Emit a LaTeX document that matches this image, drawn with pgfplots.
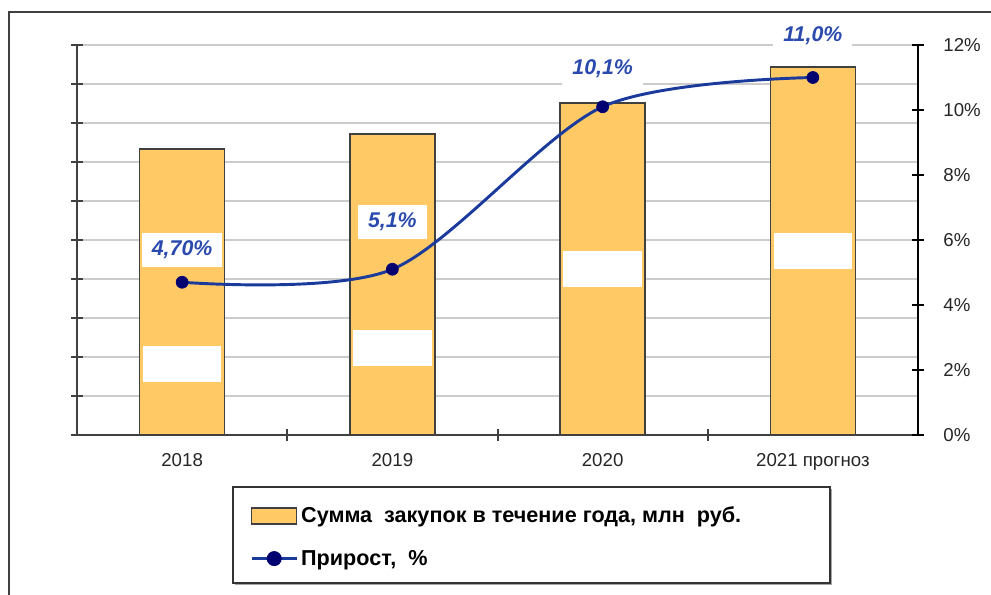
\documentclass[border=0pt]{standalone}
\usepackage{pgfplots}
\pgfplotsset{compat=1.18}
\usepackage{fontspec}
\setmainfont{Liberation Sans}

\definecolor{barfill}{HTML}{FFC966}
\definecolor{lineblue}{HTML}{1A3A9C}
\definecolor{markblue}{HTML}{000070}
\definecolor{lblblue}{HTML}{2B4AAE}
\definecolor{axisgray}{HTML}{404040}

\begin{document}
\begin{tikzpicture}
\useasboundingbox (0,0) rectangle (743.25pt,445.5pt);
% outer frame and legend frame
\draw[axisgray, line width=1.5pt] (6.75pt,-20pt) -- (6.75pt,436.5pt) -- (760pt,436.5pt);
\draw[gray!70, line width=1.2pt] (176pt,7pt) -- (623.7pt,7pt) -- (623.7pt,79pt);
\draw[black!80, line width=1.2pt] (174.75pt,8.25pt) rectangle (622.5pt,80.25pt);

% bars, left axis
\begin{axis}[
  at={(57.75pt,119.25pt)}, anchor=south west,
  scale only axis, width=630.75pt, height=292.5pt,
  xmin=-0.5, xmax=3.5, ymin=0, ymax=10,
  axis x line*=bottom, axis y line*=left,
  axis line style={axisgray, line width=2pt},
  xtick={0.5,1.5,2.5}, xticklabels={},
  extra x ticks={0,1,2,3},
  extra x tick labels={2018,2019,2020,2021 прогноз},
  extra x tick style={major tick length=0pt},
  xticklabel style={yshift=-10pt},
  ytick={0,...,10}, yticklabels={},
  ymajorgrids, grid style={gray!40, line width=1.5pt},
  tick align=center, major tick length=9pt,
  tick style={axisgray, line width=1.5pt},
  tick label style={font=\fontsize{14}{16}\selectfont, text=black!85},
  /pgf/number format/assume math mode=true,
  clip=false,
]
\addplot[ybar, bar width=63.75pt, fill=barfill, draw=axisgray, line width=1.1pt]
  coordinates {(0,7.33) (1,7.72) (2,8.51) (3,9.44)};
% blank patches inside the bars
\addplot[draw=none, mark=none, nodes near coords={\mbox{}},
  every node near coord/.style={anchor=center, fill=white, inner sep=0pt,
    minimum width=59pt, minimum height=27pt}]
  coordinates {(0,1.81) (1,2.23) (2,4.26) (3,4.73)};
\end{axis}

% growth line, right axis
\begin{axis}[
  at={(57.75pt,119.25pt)}, anchor=south west,
  scale only axis, width=630.75pt, height=292.5pt,
  xmin=-0.5, xmax=3.5, ymin=0, ymax=12,
  axis x line=none, axis y line*=right,
  axis line style={black, line width=1.5pt},
  ytick={0,2,...,12},
  yticklabel={\pgfmathprintnumber{\tick}\%},
  tick align=center, major tick length=9pt,
  tick style={black, line width=1.2pt},
  yticklabel style={font=\fontsize{14}{16}\selectfont, text=black!85, xshift=11pt},
  /pgf/number format/assume math mode=true,
  clip=false,
  legend style={at={(axis description cs:0.2057,-0.2615)}, anchor=west,
    draw=none, fill=none, inner sep=0pt, row sep=19pt, column sep=2.25pt,
    nodes={inner sep=0pt}, font=\fontsize{16.2}{19}\selectfont\bfseries},
  legend cell align=left,
]
\addlegendimage{legend image code/.code={
  \draw[fill=barfill, draw=axisgray, line width=1.1pt] (0pt,-6pt) rectangle (33.75pt,6pt);}}
\addlegendentry{Сумма\ \ закупок в течение года, млн\ \ руб.}
\addplot[smooth, lineblue, line width=2.2pt, mark=*, mark size=4.5pt,
  mark options={solid, fill=markblue, draw=markblue, line width=0.5pt},
  legend image code/.code={
    \draw[lineblue, line width=2.2pt] (0pt,0pt) -- (33.75pt,0pt);
    \fill[markblue] (16.875pt,0pt) circle (4.5pt);}]
  coordinates {(0,4.7) (1,5.1) (2,10.1) (3,11.0)};
\addlegendentry{Прирост,\ \ \%}
% value labels
\addplot[draw=none, mark=none, forget plot, nodes near coords, point meta=explicit symbolic,
  every node near coord/.style={anchor=center, fill=white, text=lblblue,
    font=\fontsize{16}{19}\selectfont\bfseries\itshape,
    inner xsep=7.5pt, inner ysep=0pt, minimum height=25.5pt}]
  coordinates {(0,5.69) [4{,}70\%] (1,6.55) [5{,}1\%] (2,11.26) [10{,}1\%] (3,12.28) [11{,}0\%]};
\end{axis}
\end{tikzpicture}
\end{document}
